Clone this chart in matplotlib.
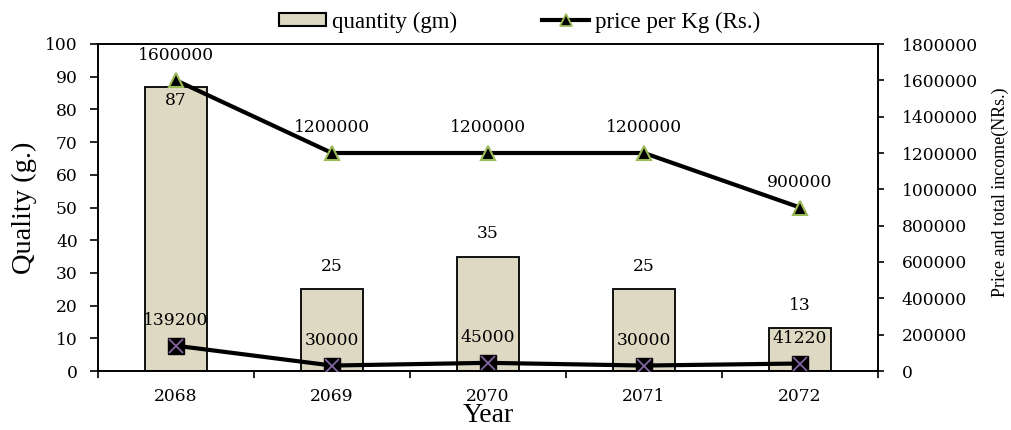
import matplotlib
matplotlib.use("Agg")
import matplotlib.pyplot as plt
from matplotlib.lines import Line2D
from matplotlib.patches import Patch
from matplotlib.ticker import FuncFormatter
import numpy as np

years = ["2068", "2069", "2070", "2071", "2072"]
quantity = [87, 25, 35, 25, 13]
price_per_kg = [1600000, 1200000, 1200000, 1200000, 900000]
total_income = [139200, 30000, 45000, 30000, 41220]

plt.rcParams["font.family"] = ["Liberation Serif", "DejaVu Serif"]
num_font = {"family": "DejaVu Serif", "size": 12.3}

bar_color = "#ddd9c3"
tri_edge = "#9bbb59"
cross_color = "#8064a2"

fig = plt.figure(figsize=(10.11, 4.30), dpi=100)
ax = fig.add_axes([98 / 1011, 59 / 430, 780 / 1011, 327 / 430])
ax2 = ax.twinx()

x = np.arange(len(years))
ax.bar(x, quantity, width=0.4, color=bar_color, edgecolor="black", linewidth=1.3, zorder=2)
ax.set_ylim(0, 100)
ax.set_yticks(range(0, 101, 10))
ax.set_xlim(-0.5, len(years) - 0.5)
ax.set_xticks(np.arange(-0.5, len(years), 1.0))
ax.set_xticklabels([])
ax.set_xticks(x, minor=True)
ax.set_xticklabels(years, minor=True)
ax.tick_params(axis="x", which="minor", length=0, pad=12)
ax.tick_params(axis="x", which="major", length=5, width=1.2, direction="out")
ax.tick_params(axis="y", length=5.5, width=1.2, pad=9, direction="out")
for lbl in ax.get_xticklabels(minor=True) + ax.get_yticklabels():
    lbl.set_fontfamily(num_font["family"])
    lbl.set_fontsize(num_font["size"])
ax.set_ylabel("Quality (g.)", fontsize=20.5)
ax.yaxis.set_label_coords(-0.078, 0.5)
ax.set_xlabel("Year", fontsize=20)
ax.xaxis.set_label_coords(0.5, -0.099)
for s in ax.spines.values():
    s.set_linewidth(1.2)

for i, q in enumerate(quantity):
    if q > 80:
        ax.annotate(str(q), (i, q), xytext=(0, -4), textcoords="offset points",
                    ha="center", va="top", **num_font)
    else:
        ax.annotate(str(q), (i, q), xytext=(0, 13), textcoords="offset points",
                    ha="center", va="baseline", **num_font)

ax2.plot(x, price_per_kg, color="black", linewidth=3, marker="^", markersize=10,
         markerfacecolor="black", markeredgecolor=tri_edge, markeredgewidth=1.5, zorder=3)
ax2.plot(x, total_income, color="black", linewidth=3, marker="s", markersize=11,
         markerfacecolor="black", markeredgecolor="black", zorder=3)
ax2.plot(x, total_income, linestyle="none", marker="x", markersize=10,
         markeredgecolor=cross_color, markeredgewidth=1.3, zorder=4)
ax2.set_ylim(0, 1800000)
ax2.set_yticks(range(0, 1800001, 200000))
ax2.yaxis.set_major_formatter(FuncFormatter(lambda v, p: f"{int(v)}"))
ax2.tick_params(axis="y", length=4, width=1.2, pad=13, direction="out")
for lbl in ax2.get_yticklabels():
    lbl.set_fontfamily(num_font["family"])
    lbl.set_fontsize(num_font["size"])
ax2.set_ylabel("Price and total income(NRs.)", fontsize=13)
ax2.yaxis.set_label_coords(1.146, 0.547)
for s in ax2.spines.values():
    s.set_linewidth(1.2)

for i, p in enumerate(price_per_kg):
    ax2.annotate(str(p), (i, p), xytext=(0, 15), textcoords="offset points",
                 ha="center", va="baseline", **num_font)
for i, t in enumerate(total_income):
    ax2.annotate(str(t), (i, t), xytext=(0, 15), textcoords="offset points",
                 ha="center", va="baseline", **num_font)

handles = [
    Patch(facecolor=bar_color, edgecolor="black", linewidth=1.5),
    Line2D([], [], color="black", linewidth=3, marker="^", markersize=8,
           markerfacecolor="black", markeredgecolor=tri_edge, markeredgewidth=1.3),
]
fig.legend(handles, ["quantity (gm)", "price per Kg (Rs.)"], loc="center",
           bbox_to_anchor=(520 / 1011, 1 - 22 / 430), ncol=2, frameon=False,
           fontsize=16.5, handlelength=2.05, handleheight=0.44, handletextpad=0.26,
           columnspacing=3.7)

fig.savefig("out.png", dpi=100)
